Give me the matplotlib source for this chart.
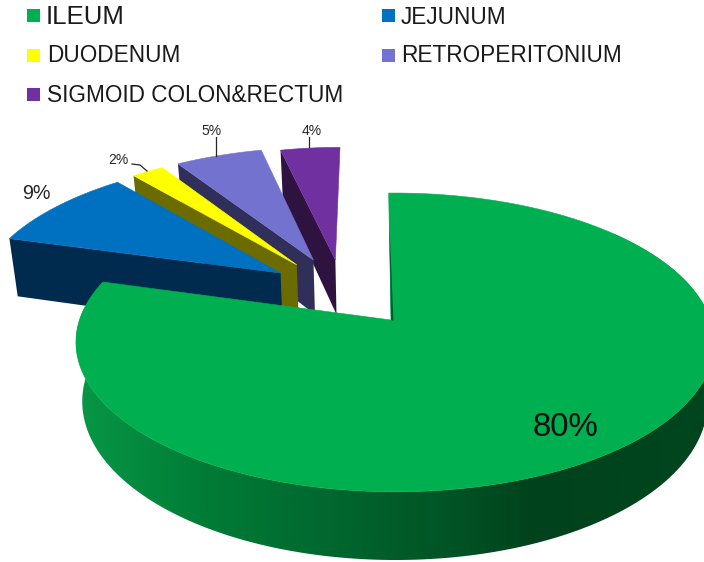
# -*- coding: utf-8 -*-
import numpy as np
import matplotlib
matplotlib.use("Agg")
import matplotlib.pyplot as plt
from matplotlib.patches import Polygon, Rectangle

plt.rcParams["font.family"] = ["Liberation Sans", "DejaVu Sans"]

categories = ["ILEUM", "JEJUNUM", "DUODENUM", "RETROPERITONIUM", "SIGMOID COLON&RECTUM"]
values = [79.5, 9.4, 2.0, 5.4, 3.7]
pct_labels = ["80%", "9%", "2%", "5%", "4%"]

# pulled out slices: offset of each tip on the pie plane
explode_u = [0, -0.372, -0.32, -0.265, -0.19]
explode_v = [0, 0.338, 0.40, 0.438, 0.438]
depths = [58, 63, 58, 58, 58]

top_colors = ["#00b050", "#0070c0", "#ffff00", "#7373cf", "#7030a0"]
side_colors = ["#005f2e", "#002b4f", "#6b6b00", "#2f2f5a", "#2e1340"]

# pie camera
CX, CY = 391, 320
RX, RY = 312, 146
PERSP = 0.15
START = -0.5
# big slice is a bit wider and sits right of its own tip
BIG_W, BIG_SHIFT = 1.011, 0.0125


def project(u, v, depth=0.0):
    # depth=0 is the top face, depth>0 goes down to the bottom face
    s = 1 / (1 + PERSP * v)
    x = CX + RX * u * s * (1 - 0.02 * depth / 58)
    y = CY + (-RY * v + depth) * s
    return np.column_stack([np.atleast_1d(x), np.atleast_1d(y)])


def arc_plane(a0, a1, du, dv, n=120):
    a = np.radians(np.linspace(a0, a1, n))
    return du + np.sin(a), dv + np.cos(a)


def big_arc(a0, a1, n=500):
    u, v = arc_plane(a0, a1, 0, 0, n)
    return BIG_W * u + BIG_SHIFT, v


fig = plt.figure(figsize=(7.04, 5.62), dpi=100)
ax = fig.add_axes([0, 0, 1, 1])
ax.axis("off")

angles = START + np.concatenate([[0], np.cumsum(values)]) * 3.6

# back to front: small slices first, biggest last
for i in [4, 3, 2, 1]:
    du, dv = explode_u[i], explode_v[i]
    u, v = arc_plane(angles[i], angles[i + 1], du, dv)
    tip_t = project(du, dv)
    tip_b = project(du, dv, depths[i])
    side = np.vstack([tip_t, project(u[0], v[0]), project(u[0], v[0], depths[i]), tip_b])
    ax.add_patch(Polygon(side, closed=True, fc=side_colors[i], ec="none"))
    top = np.vstack([tip_t, project(u, v)])
    ax.add_patch(Polygon(top, closed=True, fc=top_colors[i], ec=top_colors[i], lw=0.4))

# big slice rim, shaded left to right
grad_x = [80, 200, 350, 470, 533, 704]
grad_r = [8, 0, 0, 0, 0, 0]
grad_g = [150, 125, 100, 80, 66, 70]
grad_b = [70, 55, 45, 35, 28, 30]
px = np.arange(0, 705)
grad = np.dstack([np.interp(px, grad_x, grad_r), np.interp(px, grad_x, grad_g),
                  np.interp(px, grad_x, grad_b)]) / 255
u, v = big_arc(50, 275)
outline = np.vstack([project(u, v), project(u, v, depths[0])[::-1]])
rim = Polygon(outline, closed=True, fc="none", ec="none", transform=ax.transData)
ax.add_patch(rim)
im = ax.imshow(grad, extent=(0, 704, 562, 0), aspect="auto", interpolation="bilinear", zorder=1)
im.set_clip_path(rim)

u, v = big_arc(angles[0] - 0.7, angles[1])
top = np.vstack([project(0, 0), project(u, v)])
ax.add_patch(Polygon(top, closed=True, fc=top_colors[0], ec=top_colors[0], lw=0.4, zorder=2))

# thin dark wall on the inner edge
edge_top = project(0.8 * u[0], 0.8 * v[0])[0]
apex = project(0, 0)[0]
ax.add_patch(Polygon([edge_top, apex + [2.5, 1], apex], closed=True, fc=side_colors[0], ec="none", zorder=3))

# legend
legend_x = [33.5, 33.5, 33.5, 388.5, 388.5]
legend_y = [15.5, 55, 94, 15.5, 55]
text_x = [46, 47, 47, 401, 401]
text_y = [24, 62.3, 101.5, 23.5, 62.3]
text_size = [18.6, 16.3, 16.3, 16.3, 16.3]
legend_order = [0, 2, 4, 1, 3]
for n, i in enumerate(legend_order):
    ax.add_patch(Rectangle((legend_x[n] - 6.5, legend_y[n] - 6.5), 13, 13, fc=top_colors[i], ec="none"))
    ax.text(text_x[n], text_y[n], categories[i], fontsize=text_size[n], color="#1a1a1a",
            ha="left", va="baseline")

# percent labels
ax.text(565, 436, pct_labels[0], fontsize=23.8, color="#111111", ha="center", va="baseline")
ax.text(36, 199, pct_labels[1], fontsize=14.2, color="#262626", ha="center", va="baseline")
ax.text(118, 164, pct_labels[2], fontsize=10, color="#262626", ha="center", va="baseline")
ax.text(212, 135, pct_labels[3], fontsize=10, color="#262626", ha="center", va="baseline")
ax.text(312, 135, pct_labels[4], fontsize=10, color="#262626", ha="center", va="baseline")

# leader lines
ax.plot([132, 140, 147], [164, 165, 171], color="#262626", lw=0.9)
ax.plot([216, 216], [137, 156], color="#262626", lw=0.9)
ax.plot([309, 309], [137, 147], color="#262626", lw=0.9)

ax.set_xlim(0, 704)
ax.set_ylim(562, 0)

fig.savefig("out.png", dpi=100, facecolor="white")
